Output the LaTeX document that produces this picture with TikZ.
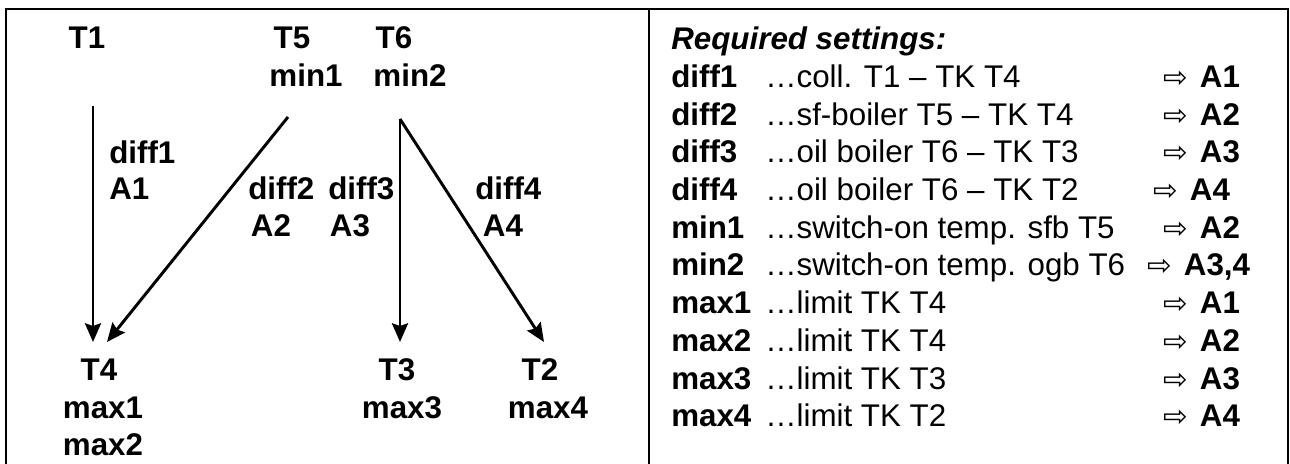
\documentclass[tikz,border=0pt]{standalone}
\usepackage{fontspec}
\setmainfont{Liberation Sans}
\newfontfamily\symfont{DejaVu Sans}
\usetikzlibrary{arrows.meta}
\newcommand{\rarr}{{\symfont\fontsize{22}{22}\selectfont ⇨}}
\newcommand{\res}[1]{\makebox[27.5pt][l]{\rarr}\textbf{#1}}
\begin{document}
\begin{tikzpicture}[x=0.75pt,y=-0.75pt,
  every node/.style={inner sep=0pt, font=\fontsize{23.5}{28}\selectfont},
  lb/.style={anchor=base, font=\fontsize{23.5}{28}\selectfont\bfseries},
  lbw/.style={anchor=base west, font=\fontsize{23.5}{28}\selectfont\bfseries},
  dsc/.style={anchor=base west},
  rs/.style={anchor=base west},
  conn/.style={line width=2.2pt, -{Stealth[length=14pt,width=12pt,inset=2pt]}},
  frame/.style={line width=1.6pt}]
\useasboundingbox (0,0) rectangle (1290,464);
\draw[frame] (6,464) -- (6,9) -- (1288,9) -- (1288,464);
\draw[frame] (649,9) -- (649,464);
% left panel
\node[lb] (T1) at (87,48) {T1};
\node[lb] (T5) at (292,48) {T5};
\node[lb] (T6) at (394,48) {T6};
\node[lb] (min1) at (306,86) {min1};
\node[lb] (min2) at (410,86) {min2};
\node[lbw] (diff1) at (109,163) {diff1};
\node[lbw] (A1) at (109,199) {A1};
\node[lbw] (diff2) at (248,199) {diff2};
\node[lbw] (diff3) at (328,199) {diff3};
\node[lbw] (diff4) at (475,199) {diff4};
\node[lb] (A2) at (271,236) {A2};
\node[lb] (A3) at (350,236) {A3};
\node[lb] (A4) at (503,236) {A4};
\node[lb] (T4) at (99,380) {T4};
\node[lb] (max1) at (103,418) {max1};
\node[lb] (max2) at (103,455) {max2};
\node[lb] (T3) at (397,380) {T3};
\node[lb] (max3) at (402,418) {max3};
\node[lb] (T2) at (540,380) {T2};
\node[lb] (max4) at (548,418) {max4};
\coordinate (s1) at (93,106);
\coordinate (e1) at (93,342);
\coordinate (s2) at (288,117);
\coordinate (e2) at (107,342);
\coordinate (s3) at (400,119);
\coordinate (e3) at (400,342);
\coordinate (e4) at (544,342);
\draw[conn] (s1) -- (e1);
\draw[conn] (s2) -- (e2);
\draw[conn] (s3) -- (e3);
\draw[conn] (s3) -- (e4);
% right panel
\node[anchor=base west, font=\fontsize{23.5}{28}\selectfont\bfseries\itshape] (head) at (671,49) {Required settings:};
\node[lbw] (k1) at (671,87.3) {diff1};
\node[lbw] (k2) at (671,125) {diff2};
\node[lbw] (k3) at (671,162.7) {diff3};
\node[lbw] (k4) at (671,200.4) {diff4};
\node[lbw] (k5) at (671,238) {min1};
\node[lbw] (k6) at (671,275.8) {min2};
\node[lbw] (k7) at (671,313.5) {max1};
\node[lbw] (k8) at (671,351.2) {max2};
\node[lbw] (k9) at (671,389) {max3};
\node[lbw] (k10) at (671,426.7) {max4};
\node[dsc] (d1) at (765,87.3) {…coll. T1 – TK T4};
\node[dsc] (d2) at (765,125) {…sf-boiler T5 – TK T4};
\node[dsc] (d3) at (765,162.7) {…oil boiler T6 – TK T3};
\node[dsc] (d4) at (765,200.4) {…oil boiler T6 – TK T2};
\node[dsc] (d5) at (765,238) {…switch-on temp. sfb T5};
\node[dsc] (d6) at (765,275.8) {…switch-on temp. ogb T6};
\node[dsc] (d7) at (765,313.5) {…limit TK T4};
\node[dsc] (d8) at (765,351.2) {…limit TK T4};
\node[dsc] (d9) at (765,389) {…limit TK T3};
\node[dsc] (d10) at (765,426.7) {…limit TK T2};
\node[rs] (r1) at (1163,87.3) {\res{A1}};
\node[rs] (r2) at (1163,125) {\res{A2}};
\node[rs] (r3) at (1163,162.7) {\res{A3}};
\node[rs] (r4) at (1153,200.4) {\res{A4}};
\node[rs] (r5) at (1163,238) {\res{A2}};
\node[rs] (r6) at (1147,275.8) {\res{A3,4}};
\node[rs] (r7) at (1163,313.5) {\res{A1}};
\node[rs] (r8) at (1163,351.2) {\res{A2}};
\node[rs] (r9) at (1163,389) {\res{A3}};
\node[rs] (r10) at (1163,426.7) {\res{A4}};
\end{tikzpicture}
\end{document}
